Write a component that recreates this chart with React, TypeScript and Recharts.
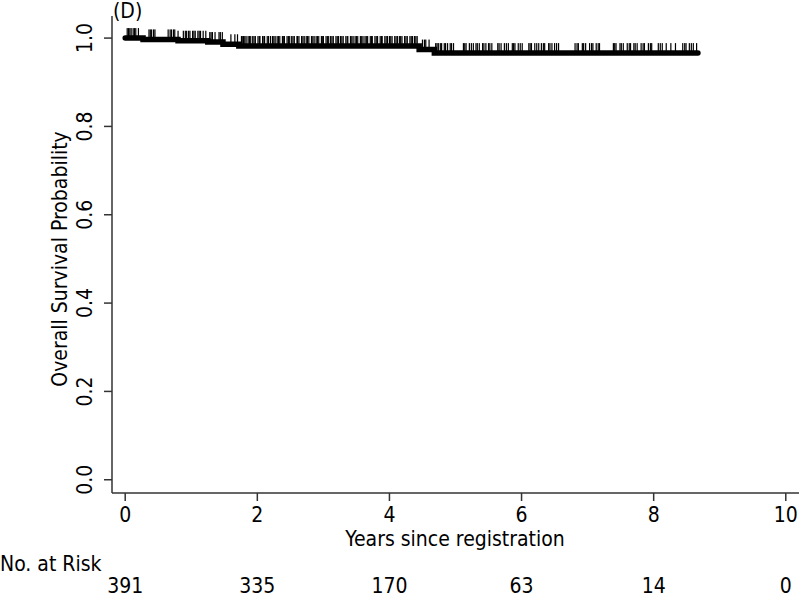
import React from 'react';
import {
  ComposedChart,
  Line,
  Scatter,
  XAxis,
  YAxis,
  Customized,
} from 'recharts';

// Kaplan-Meier steps: time (years) and survival after the step
const stepTimes = [0, 0.27, 0.8, 1.25, 1.48, 1.72, 4.45, 4.68, 8.67];
const stepSurv = [1.0, 0.997, 0.994, 0.991, 0.986, 0.982, 0.974, 0.966, 0.966];

// censored follow-up times (years)
const censorTimes = [
  0.03, 0.05, 0.07, 0.09, 0.12, 0.14, 0.16, 0.2, 0.36, 0.38, 0.4, 0.43, 0.45,
  0.65, 0.68, 0.7, 0.73, 0.75, 0.8, 0.88, 0.91, 0.93, 0.96, 0.98, 1.02, 1.04,
  1.06, 1.1, 1.12, 1.14, 1.18, 1.22, 1.28, 1.3, 1.32, 1.36, 1.42, 1.44, 1.47,
  1.6, 1.66, 1.7,
  1.76, 1.78, 1.79, 1.81, 1.83, 1.86, 1.88, 1.9, 1.93, 1.95, 1.97, 2.01, 2.03,
  2.04, 2.08, 2.1, 2.11, 2.15, 2.17, 2.2, 2.23, 2.25, 2.27, 2.3, 2.32, 2.34,
  2.38, 2.4, 2.41, 2.45, 2.47, 2.49, 2.52, 2.54, 2.56, 2.6, 2.61, 2.63, 2.67,
  2.69, 2.71, 2.74, 2.76, 2.78, 2.82, 2.84, 2.86, 2.89, 2.91, 2.93, 2.97,
  2.99, 3.0, 3.04, 3.06, 3.08, 3.11, 3.13, 3.15, 3.19, 3.21, 3.23, 3.26, 3.28,
  3.3, 3.34, 3.36, 3.37, 3.41, 3.43, 3.45, 3.48, 3.5, 3.52, 3.56, 3.58, 3.6,
  3.63, 3.65, 3.67, 3.71, 3.73, 3.74, 3.78, 3.8, 3.82, 3.86, 3.88, 3.89, 3.93,
  3.95, 3.97, 4.0, 4.02, 4.04, 4.08, 4.1, 4.12, 4.15, 4.17, 4.19, 4.23, 4.25,
  4.27, 4.31, 4.33, 4.35, 4.38, 4.4, 4.42, 4.5, 4.53, 4.55, 4.6,
  4.7, 4.72, 4.74, 4.77, 4.79, 4.83, 4.85, 4.88, 4.92, 4.94, 4.97, 5.12, 5.14,
  5.16, 5.21, 5.24, 5.27, 5.31, 5.33, 5.36, 5.41, 5.43, 5.46, 5.5, 5.52, 5.55,
  5.64, 5.66, 5.69, 5.74, 5.77, 5.8, 5.86, 5.88, 5.9, 5.95, 5.98, 6.01, 6.11,
  6.13, 6.15, 6.2, 6.23, 6.26, 6.3, 6.33, 6.35, 6.41, 6.43, 6.46, 6.5, 6.53,
  6.56, 6.81, 6.84, 6.86, 6.92, 6.94, 6.97, 7.03, 7.06, 7.08, 7.13, 7.16,
  7.18, 7.39, 7.41, 7.43, 7.49, 7.51, 7.54, 7.6, 7.63, 7.65, 7.7, 7.72, 7.75,
  7.81, 7.84, 7.86, 7.92, 7.95, 7.97, 8.07, 8.1, 8.13, 8.19, 8.26, 8.33,
  8.44, 8.47, 8.49, 8.54, 8.57, 8.6, 8.65,
];

const xTicks = [0, 2, 4, 6, 8, 10];
const atRisk = [391, 335, 170, 63, 14, 0];
const yTicks = [0, 0.2, 0.4, 0.6, 0.8, 1.0];

const FONT = '"Liberation Sans Narrow", "DejaVu Sans Condensed", sans-serif';

const curve = stepTimes.map((t, i) => ({ t, s: stepSurv[i] }));

function survAt(t: number) {
  let s = stepSurv[0];
  for (let i = 0; i < stepTimes.length; i++) {
    if (stepTimes[i] <= t) s = stepSurv[i];
  }
  return s;
}

const censors = censorTimes.map((t) => ({ t, s: survAt(t) }));

const CensorMark = (props: any) => {
  const { cx, cy } = props;
  return <rect x={cx - 0.6} y={cy - 10} width={1.2} height={10} fill="#000" />;
};

const XTick = (props: any) => {
  const { x, payload, index } = props;
  return (
    <g>
      <text x={x} y={522} textAnchor="middle" fontSize={21} fontFamily={FONT} fill="#000">
        {payload.value}
      </text>
      <text x={x} y={593} textAnchor="middle" fontSize={21} fontFamily={FONT} fill="#000">
        {atRisk[index]}
      </text>
    </g>
  );
};

const YTick = (props: any) => {
  const { y, payload } = props;
  return (
    <text
      x={92}
      y={y}
      transform={`rotate(-90, 92, ${y})`}
      textAnchor="middle"
      fontSize={21}
      fontFamily={FONT}
      fill="#000"
    >
      {payload.value.toFixed(1)}
    </text>
  );
};

const Extras = () => (
  <g fontFamily={FONT} fill="#000" fontSize={21}>
    <text x={113} y={18}>(D)</text>
    <text x={67} y={259} transform="rotate(-90, 67, 259)" textAnchor="middle">
      Overall Survival Probability
    </text>
    <text x={455} y={546} textAnchor="middle">Years since registration</text>
    <text x={0} y={571}>No. at Risk</text>
  </g>
);

export default function App() {
  return (
    <div style={{ position: 'absolute', left: 0, top: 0, background: '#fff' }}>
      <ComposedChart
        width={800}
        height={598}
        margin={{ top: 16, right: 1, bottom: 0, left: 0 }}
      >
        <XAxis
          dataKey="t"
          type="number"
          domain={[-0.2, 10.2]}
          ticks={xTicks}
          allowDataOverflow
          height={105}
          tickSize={8}
          stroke="#333"
          strokeWidth={1.5}
          tick={<XTick />}
        />
        <YAxis
          dataKey="s"
          type="number"
          domain={[-0.03, 1.05]}
          ticks={yTicks}
          allowDataOverflow
          width={112}
          tickSize={8}
          stroke="#333"
          strokeWidth={1.5}
          tick={<YTick />}
        />
        <Line
          data={curve}
          dataKey="s"
          type="stepAfter"
          stroke="#000"
          strokeWidth={5.5}
          strokeLinecap="round"
          dot={false}
          isAnimationActive={false}
        />
        <Scatter
          data={censors}
          dataKey="s"
          shape={<CensorMark />}
          isAnimationActive={false}
        />
        <Customized component={<Extras />} />
      </ComposedChart>
    </div>
  );
}
